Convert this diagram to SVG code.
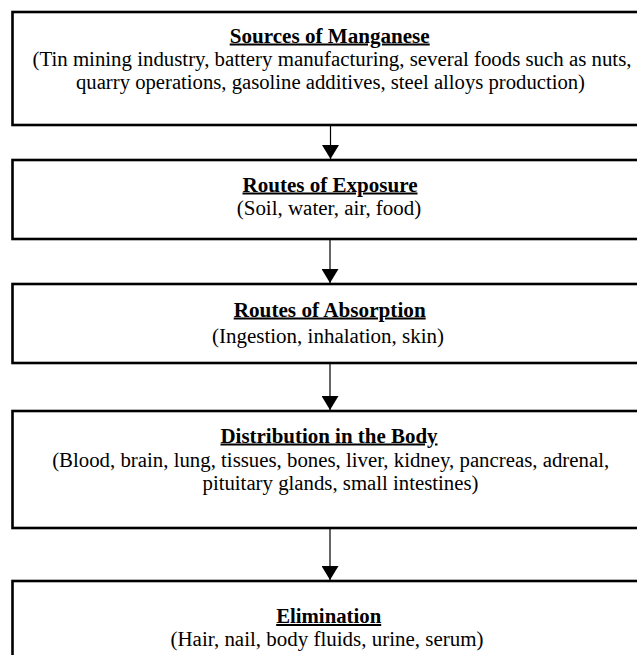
<svg xmlns="http://www.w3.org/2000/svg" width="637" height="655" viewBox="0 0 637 655">
<defs>
<style>
.box{fill:#fff;stroke:#000;stroke-width:2.6}
.t{font-family:"Liberation Serif","Times New Roman",serif;font-size:20px;fill:#000;text-anchor:middle}
.h{font-weight:bold;text-decoration:underline}
.c{stroke:#000;stroke-width:1.2;fill:none}
</style>
<marker id="ah" viewBox="0 0 14 17" refX="14" refY="8.5" markerWidth="14" markerHeight="17" markerUnits="userSpaceOnUse" orient="auto">
<path d="M0,0 L14,8.5 L0,17 Z" fill="#000"/>
</marker>
</defs>
<rect width="637" height="655" fill="#fff"/>
<g id="connectors">
<line class="c" x1="330.5" y1="126" x2="330.5" y2="159" marker-end="url(#ah)"/>
<line class="c" x1="330" y1="240" x2="330" y2="283" marker-end="url(#ah)"/>
<line class="c" x1="330" y1="364" x2="330" y2="410" marker-end="url(#ah)"/>
<line class="c" x1="330" y1="529" x2="330" y2="580" marker-end="url(#ah)"/>
</g>
<g id="sources">
<rect class="box" x="12.5" y="12" width="640" height="113"/>
<text class="t h" x="329.7" y="42.5" textLength="200" lengthAdjust="spacingAndGlyphs">Sources of Manganese</text>
<text class="t" x="332" y="65.5" textLength="599" lengthAdjust="spacingAndGlyphs">(Tin mining industry, battery manufacturing, several foods such as nuts,</text>
<text class="t" x="330.5" y="88.5" textLength="509" lengthAdjust="spacingAndGlyphs">quarry operations, gasoline additives, steel alloys production)</text>
</g>
<g id="exposure">
<rect class="box" x="12.5" y="160" width="640" height="79"/>
<text class="t h" x="330" y="191.5" textLength="175" lengthAdjust="spacingAndGlyphs">Routes of Exposure</text>
<text class="t" x="329" y="214.5" textLength="184.5" lengthAdjust="spacingAndGlyphs">(Soil, water, air, food)</text>
</g>
<g id="absorption">
<rect class="box" x="12.5" y="284" width="640" height="79"/>
<text class="t h" x="329.7" y="316.5" textLength="192" lengthAdjust="spacingAndGlyphs">Routes of Absorption</text>
<text class="t" x="328" y="342.5" textLength="232" lengthAdjust="spacingAndGlyphs">(Ingestion, inhalation, skin)</text>
</g>
<g id="distribution">
<rect class="box" x="12.5" y="411" width="640" height="117"/>
<text class="t h" x="329" y="442.5" textLength="217" lengthAdjust="spacingAndGlyphs">Distribution in the Body</text>
<text class="t" x="330.7" y="466.5" textLength="557" lengthAdjust="spacingAndGlyphs">(Blood, brain, lung, tissues, bones, liver, kidney, pancreas, adrenal,</text>
<text class="t" x="340.5" y="489.5" textLength="276" lengthAdjust="spacingAndGlyphs">pituitary glands, small intestines)</text>
</g>
<g id="elimination">
<rect class="box" x="12.5" y="581" width="640" height="90"/>
<text class="t h" x="328.7" y="623" textLength="105" lengthAdjust="spacingAndGlyphs">Elimination</text>
<text class="t" x="327" y="645.5" textLength="313" lengthAdjust="spacingAndGlyphs">(Hair, nail, body fluids, urine, serum)</text>
</g>
</svg>
